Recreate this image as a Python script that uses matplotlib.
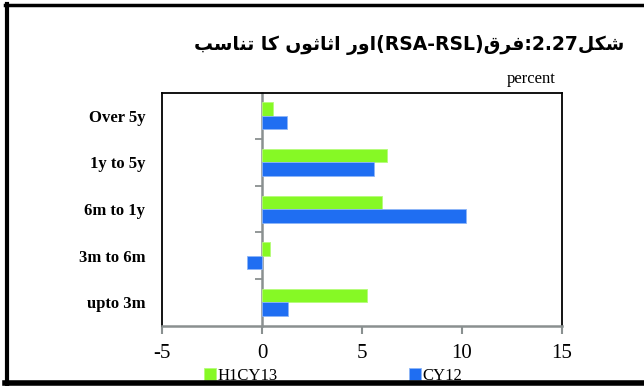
import numpy as np
import matplotlib
matplotlib.use("Agg")
import matplotlib.pyplot as plt
from matplotlib.lines import Line2D

# maturity buckets, top to bottom
categories = ["Over 5y", "1y to 5y", "6m to 1y", "3m to 6m", "upto 3m"]
h1cy13 = [0.55, 6.27, 5.98, 0.38, 5.23]
cy12 = [1.23, 5.62, 10.18, -0.73, 1.32]
series_names = ["H1CY13", "CY12"]
xticks = [-5, 0, 5, 10, 15]

green = "#86f925"
blue = "#1f6ef2"
grey = "#8a9090"

# presentation forms: isolated, final, initial, medial
FORMS = {
    "ا": ("\uFE8D", "\uFE8E", None, None),
    "ب": ("\uFE8F", "\uFE90", "\uFE91", "\uFE92"),
    "ت": ("\uFE95", "\uFE96", "\uFE97", "\uFE98"),
    "ث": ("\uFE99", "\uFE9A", "\uFE9B", "\uFE9C"),
    "ر": ("\uFEAD", "\uFEAE", None, None),
    "س": ("\uFEB1", "\uFEB2", "\uFEB3", "\uFEB4"),
    "ش": ("\uFEB5", "\uFEB6", "\uFEB7", "\uFEB8"),
    "ف": ("\uFED1", "\uFED2", "\uFED3", "\uFED4"),
    "ق": ("\uFED5", "\uFED6", "\uFED7", "\uFED8"),
    "ل": ("\uFEDD", "\uFEDE", "\uFEDF", "\uFEE0"),
    "ن": ("\uFEE5", "\uFEE6", "\uFEE7", "\uFEE8"),
    "و": ("\uFEED", "\uFEEE", None, None),
    "ک": ("\uFB8E", "\uFB8F", "\uFB90", "\uFB91"),
    "ں": ("\uFB9E", "\uFB9F", None, None),
}


def shape(word):
    out = []
    for i, ch in enumerate(word):
        iso, fin, ini, med = FORMS[ch]
        prev_joins = i > 0 and FORMS[word[i - 1]][2] is not None
        next_joins = i < len(word) - 1 and ini is not None
        if prev_joins and next_joins:
            out.append(med)
        elif prev_joins:
            out.append(fin)
        elif next_joins:
            out.append(ini)
        else:
            out.append(iso)
    # visual order for left-to-right rendering
    return "".join(out[::-1])


title = (shape("تناسب") + " " + shape("کا") + " " + shape("اثاثوں") + " "
         + shape("اور") + "(RSA-RSL)" + shape("فرق") + ":2.27" + shape("شکل"))

fig = plt.figure(figsize=(6.44, 3.86), dpi=100)
ax = fig.add_axes([0.2516, 0.1567, 0.6211, 0.6036])

ypos = np.arange(len(categories))
bh = 0.29
ax.barh(ypos - bh / 2, h1cy13, height=bh, color=green, edgecolor="#b5fb7a",
        linewidth=0.6, label=series_names[0], zorder=3)
ax.barh(ypos + bh / 2, cy12, height=bh, color=blue, edgecolor="#8db5f7",
        linewidth=0.6, label=series_names[1], zorder=3)

ax.set_xlim(xticks[0], xticks[-1])
ax.set_ylim(len(categories) - 0.5, -0.5)
ax.set_xticks(xticks)
ax.set_xticklabels([str(t) for t in xticks], fontsize=15, family="Liberation Serif")
ax.set_yticks(ypos)
ax.set_yticklabels(categories, fontsize=12, fontweight="bold", family="Liberation Serif")
ax.tick_params(axis="y", length=0, pad=12)
ax.tick_params(axis="x", length=6, width=1.5, color=grey, direction="out", pad=7)

for side in ["left", "top", "right"]:
    ax.spines[side].set_color("black")
    ax.spines[side].set_linewidth(1.3)
ax.spines["bottom"].set_color(grey)
ax.spines["bottom"].set_linewidth(1.8)

# value axis crossing at zero, with ticks between categories
zero_ax = ax.secondary_yaxis(0, transform=ax.transData)
zero_ax.set_yticks(ypos[:-1] + 0.5)
zero_ax.set_yticklabels([])
zero_ax.tick_params(length=5, width=1.3, color=grey, direction="out")
zero_ax.spines["left"].set_color(grey)
zero_ax.spines["left"].set_linewidth(1.8)

fig.text(0.97, 0.883, title, ha="right", va="center", fontsize=13.5,
         fontweight="bold", family="DejaVu Sans")
fig.text(0.863, 0.795, "percent", ha="right", va="center", fontsize=12,
         family="Liberation Serif")

fig.legend(loc="center", bbox_to_anchor=(0.517, 0.026), ncol=2, frameon=False,
           handlelength=0.7, handleheight=0.7, handletextpad=0.1,
           columnspacing=7.9, prop={"family": "Liberation Serif", "size": 12})

# outer frame: left, top and bottom rules
frame = dict(color="black", transform=fig.transFigure, zorder=10)
fig.add_artist(Line2D([0.0109, 0.0109], [0.0, 0.99], linewidth=3.0, **frame))
fig.add_artist(Line2D([0.0078, 1.0], [0.986, 0.986], linewidth=2.5, **frame))
fig.add_artist(Line2D([0.0078, 1.0], [0.0065, 0.0065], linewidth=4.0, **frame))

fig.savefig("out.png", dpi=100)
